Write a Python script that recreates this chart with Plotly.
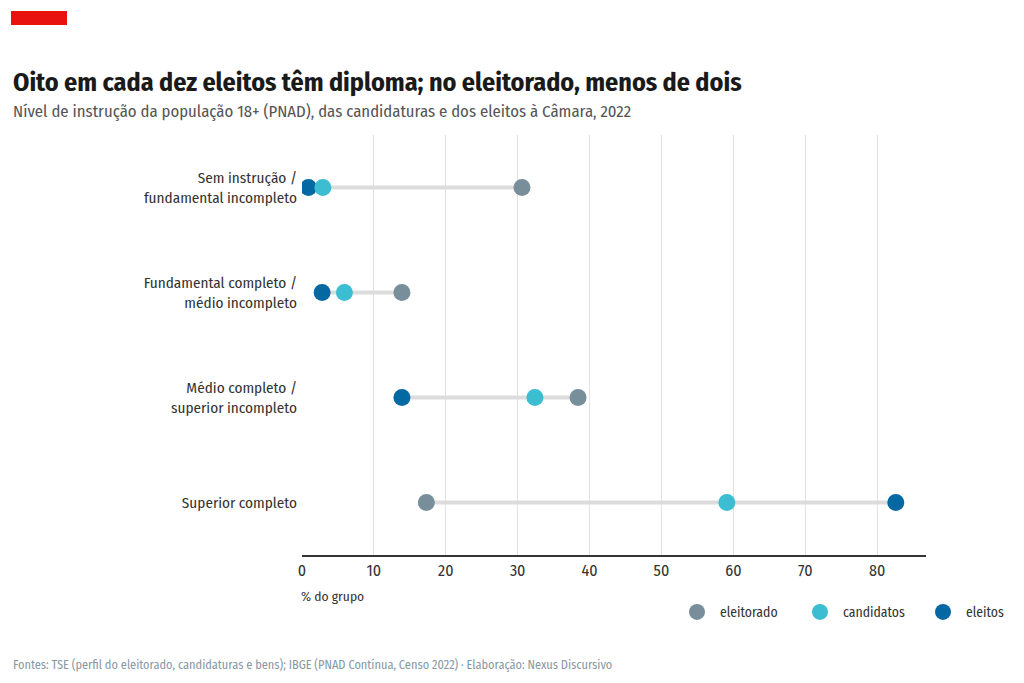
import plotly.graph_objects as go

# níveis de instrução (de cima para baixo)
categorias = [
    "Sem instrução /<br>fundamental incompleto",
    "Fundamental completo /<br>médio incompleto",
    "Médio completo /<br>superior incompleto",
    "Superior completo",
]
eleitorado = [30.6, 13.9, 38.4, 17.3]
candidatos = [2.9, 5.9, 32.4, 59.1]
eleitos = [0.9, 2.8, 13.9, 82.6]

titulo = "Oito em cada dez eleitos têm diploma; no eleitorado, menos de dois"
subtitulo = "Nível de instrução da população 18+ (PNAD), das candidaturas e dos eleitos à Câmara, 2022"
fonte = "Fontes: TSE (perfil do eleitorado, candidaturas e bens); IBGE (PNAD Contínua, Censo 2022) · Elaboração: Nexus Discursivo"

FONT = "Fira Sans Condensed, Liberation Sans Narrow, DejaVu Sans Condensed, sans-serif"
CORES = {"eleitorado": "#788E9B", "candidatos": "#3DBDD2", "eleitos": "#0468A3"}

# área do gráfico (px da figura)
L, T, PW, PH = 294, 127, 624, 420


def px(x):
    return (x - L) / PW


def py(y):
    return (T + PH - y) / PH


fig = go.Figure()

# barras de ligação entre o menor e o maior valor
lx, ly = [], []
for cat, a, b, c in zip(categorias, eleitorado, candidatos, eleitos):
    lx += [min(a, b, c), max(a, b, c), None]
    ly += [cat, cat, None]
fig.add_trace(go.Scatter(x=lx, y=ly, mode="lines", line=dict(color="#DCDCDC", width=4),
                         hoverinfo="skip", showlegend=False))

for nome, vals, rank in [("eleitorado", eleitorado, 1), ("eleitos", eleitos, 3),
                         ("candidatos", candidatos, 2)]:
    fig.add_trace(go.Scatter(x=vals, y=categorias, mode="markers", name=nome, legendrank=rank,
                             marker=dict(color=CORES[nome], size=17, line=dict(width=0))))

fig.update_layout(
    width=1008, height=667,
    margin=dict(l=L, r=1008 - L - PW, t=T, b=667 - T - PH, autoexpand=False),
    plot_bgcolor="white", paper_bgcolor="white",
    font=dict(family=FONT, color="#333333", size=14),
    showlegend=True,
    legend=dict(orientation="h", x=px(666), xanchor="left", y=py(604), yanchor="middle",
                font=dict(size=13.7, color="#333333"), traceorder="normal",
                itemwidth=36, entrywidthmode="pixels", entrywidth=72),
    xaxis=dict(range=[0, 86.8], dtick=10, showgrid=True, gridcolor="#E2E2E2", gridwidth=1,
               zeroline=False, showline=True, linecolor="#333333", linewidth=1.5,
               ticks="", tickfont=dict(size=16, color="#333333")),
    yaxis=dict(categoryorder="array", categoryarray=categorias, range=[3.5, -0.5],
               showgrid=False, zeroline=False, ticks="", ticklabelstandoff=4,
               tickfont=dict(size=15.2, color="#333333")),
)

fig.add_shape(type="rect", xref="paper", yref="paper",
              x0=px(3), x1=px(59), y0=py(17), y1=py(3),
              fillcolor="#E8130F", line=dict(width=0))

fig.add_annotation(text=f"<b>{titulo}</b>", xref="paper", yref="paper", x=px(3),
                   y=py(74), xanchor="left", yanchor="middle", showarrow=False,
                   font=dict(size=26, color="#1A1A1A", family=FONT))
fig.add_annotation(text=subtitulo, xref="paper", yref="paper", x=px(3),
                   y=py(103), xanchor="left", yanchor="middle", showarrow=False,
                   font=dict(size=16.7, color="#555555", family=FONT))
fig.add_annotation(text="% do grupo", xref="paper", yref="paper", x=px(291), y=py(588),
                   xanchor="left", yanchor="middle", showarrow=False,
                   font=dict(size=13.5, color="#333333", family=FONT))
fig.add_annotation(text=fonte, xref="paper", yref="paper", x=px(3), y=py(656),
                   xanchor="left", yanchor="middle", showarrow=False,
                   font=dict(size=12.3, color="#8799A6", family=FONT))

fig.write_html("out.html")
